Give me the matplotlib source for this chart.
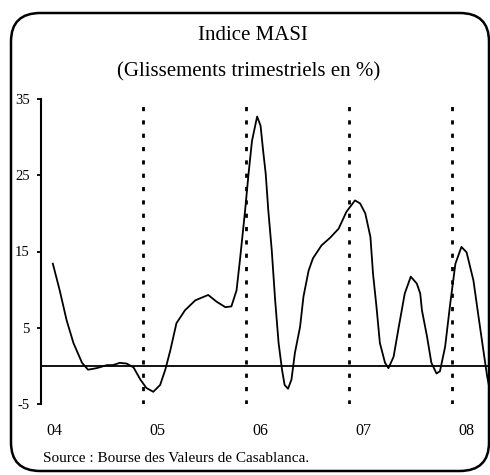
import matplotlib.pyplot as plt
from matplotlib.patches import FancyBboxPatch

plt.rcParams['font.family'] = ['Liberation Serif', 'DejaVu Serif']
plt.rcParams['axes.unicode_minus'] = False

# months counted from January 2004
months = [1.5, 2.3, 3.1, 3.9, 4.9, 5.6, 6.6, 7.8, 8.5, 9.3,
          10.1, 10.9, 11.7, 12.4, 13.2, 14.0, 14.6, 15.2, 15.9, 16.9,
          18.1, 19.6, 20.6, 21.6, 22.3, 22.9, 23.3, 23.9, 24.3, 24.7,
          25.3, 25.7, 26.0, 26.3, 26.6, 27.0, 27.4, 27.8, 28.2, 28.5,
          28.9, 29.3, 29.7, 30.3, 30.7, 31.3, 31.8, 32.8, 33.8, 34.8,
          35.7, 36.7, 37.3, 37.9, 38.5, 38.8, 39.2, 39.6, 40.2, 40.6,
          41.2, 41.8, 42.5, 43.2, 43.9, 44.3, 44.5, 45.1, 45.6, 46.2,
          46.6, 47.2, 47.8, 48.4, 49.1, 49.7, 50.5, 51.1, 51.7, 52.1,
          52.4]
masi = [13.4, 9.9, 6.0, 3.0, 0.4, -0.5, -0.3, 0.1, 0.1, 0.4,
        0.3, -0.2, -1.8, -2.9, -3.4, -2.5, -0.5, 2.1, 5.6, 7.3,
        8.6, 9.3, 8.4, 7.7, 7.8, 9.9, 13.9, 20.4, 25.2, 29.5,
        32.7, 31.5, 28.2, 25.2, 20.4, 15.2, 8.6, 3.0, -0.5, -2.5,
        -3.0, -1.8, 1.7, 5.1, 9.1, 12.5, 14.1, 15.8, 16.8, 18.0,
        20.2, 21.7, 21.3, 20.0, 16.9, 12.1, 7.8, 3.0, 0.4, -0.3,
        1.2, 5.1, 9.5, 11.7, 10.8, 9.5, 7.3, 3.8, 0.4, -1.0,
        -0.7, 2.5, 8.2, 13.4, 15.6, 14.9, 11.2, 6.4, 1.7, -1.4,
        -3.1]
year_labels = ['04', '05', '06', '07', '08']
year_starts = [12, 24, 36, 48]

fig = plt.figure(figsize=(4.9, 4.75), dpi=100)

# rounded frame around everything
frame = FancyBboxPatch((11 / 490, 4 / 475), 478 / 490, 458 / 475,
                       boxstyle="round,pad=0,rounding_size=0.06",
                       transform=fig.transFigure, fill=False,
                       edgecolor='black', linewidth=1.8)
fig.patches.append(frame)

ax = fig.add_axes([41 / 490, 71 / 475, 449 / 490, 305 / 475])
ax.plot(months, masi, color='black', linewidth=1.3, clip_on=False)
ax.axhline(0, color='black', linewidth=1.3)
for m in year_starts:
    ax.axvline(m, color='black', linewidth=2.0, linestyle=(0, (1.5, 3.3)))

ax.set_xlim(0.12, 52.43)
ax.set_ylim(-5, 35)
ax.set_yticks(range(-5, 36, 10))
ax.set_xticks([12 * i + 1.7 for i in range(len(year_labels))])
ax.set_xticklabels(year_labels, fontsize=11.5)
ax.tick_params(axis='x', length=0, pad=14)
ax.tick_params(axis='y', direction='out', length=3, width=1.3, labelsize=10.5, pad=5)
for s in ['top', 'right', 'bottom']:
    ax.spines[s].set_visible(False)
ax.spines['left'].set_linewidth(1.5)

fig.text(0.516, 1 - 35 / 475, 'Indice MASI', ha='center', va='center', fontsize=15)
fig.text(0.508, 1 - 72 / 475, '(Glissements trimestriels en %)', ha='center',
         va='center', fontsize=15)
fig.text(43 / 490, 1 - 459 / 475, 'Source : Bourse des Valeurs de Casablanca.',
         ha='left', va='center', fontsize=11)

fig.savefig('out.png', dpi=100)
